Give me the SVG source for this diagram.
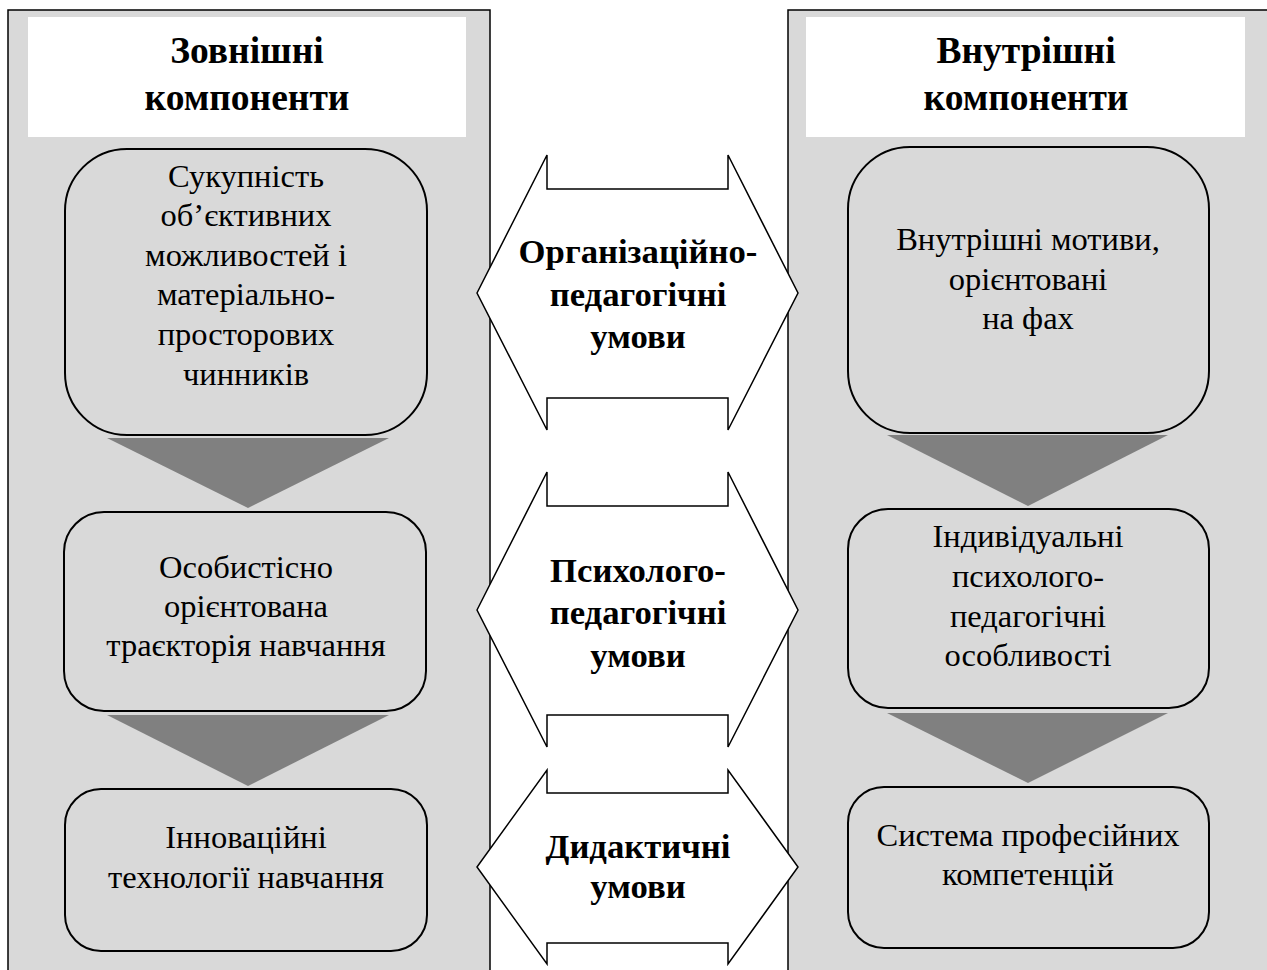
<svg xmlns="http://www.w3.org/2000/svg" width="1267" height="970" viewBox="0 0 1267 970">
  <style>
    .panel { fill: #d9d9d9; stroke: #000; stroke-width: 1.5; }
    .head { fill: #fff; }
    .box { fill: #d9d9d9; stroke: #000; stroke-width: 2; }
    .tri { fill: #808080; }
    .arrow { fill: #fff; stroke: #000; stroke-width: 1.5; stroke-linejoin: miter; }
    .h { font-family: "Liberation Serif", "Times New Roman", serif; font-weight: bold; font-size: 37.5px; fill: #000; text-anchor: middle; }
    .m { font-family: "Liberation Serif", "Times New Roman", serif; font-weight: bold; font-size: 34.7px; fill: #000; text-anchor: middle; }
    .t { font-family: "Liberation Serif", "Times New Roman", serif; font-size: 32.5px; fill: #000; text-anchor: middle; }
  </style>
  <rect width="1267" height="970" fill="#fff"/>

  <!-- outer columns -->
  <g id="left-panel">
    <rect class="panel" x="8" y="10" width="482" height="975"/>
    <rect class="head" x="28" y="17" width="438" height="120"/>
    <text class="h" x="247" y="63">Зовнішні</text>
    <text class="h" x="247" y="110">компоненти</text>
  </g>
  <g id="right-panel">
    <rect class="panel" x="788" y="10" width="490" height="975"/>
    <rect class="head" x="806" y="17" width="439" height="120"/>
    <text class="h" x="1026" y="63">Внутрішні</text>
    <text class="h" x="1026" y="110">компоненти</text>
  </g>

  <!-- flow arrows between components -->
  <g id="connectors">
    <polygon class="tri" points="107,438 389,438 248,508"/>
    <polygon class="tri" points="107,715 389,715 248,786"/>
    <polygon class="tri" points="887,435 1168,435 1028,506"/>
    <polygon class="tri" points="887,713 1168,713 1028,783"/>
  </g>

  <!-- external components -->
  <g id="ext-1">
    <rect class="box" x="65" y="149" width="362" height="286" rx="62" ry="62"/>
    <text class="t" x="246" y="187">Сукупність</text>
    <text class="t" x="246" y="226">об’єктивних</text>
    <text class="t" x="246" y="266">можливостей і</text>
    <text class="t" x="246" y="305">матеріально-</text>
    <text class="t" x="246" y="345">просторових</text>
    <text class="t" x="246" y="385">чинників</text>
  </g>
  <g id="ext-2">
    <rect class="box" x="64" y="512" width="362" height="199" rx="40" ry="40"/>
    <text class="t" x="246" y="578">Особистісно</text>
    <text class="t" x="246" y="617">орієнтована</text>
    <text class="t" x="246" y="656">траєкторія навчання</text>
  </g>
  <g id="ext-3">
    <rect class="box" x="65" y="789" width="362" height="162" rx="36" ry="36"/>
    <text class="t" x="246" y="848">Інноваційні</text>
    <text class="t" x="246" y="888">технології навчання</text>
  </g>

  <!-- internal components -->
  <g id="int-1">
    <rect class="box" x="848" y="147" width="361" height="286" rx="62" ry="62"/>
    <text class="t" x="1028" y="250">Внутрішні мотиви,</text>
    <text class="t" x="1028" y="290">орієнтовані</text>
    <text class="t" x="1028" y="329">на фах</text>
  </g>
  <g id="int-2">
    <rect class="box" x="848" y="509" width="361" height="199" rx="40" ry="40"/>
    <text class="t" x="1028" y="547">Індивідуальні</text>
    <text class="t" x="1028" y="587">психолого-</text>
    <text class="t" x="1028" y="627">педагогічні</text>
    <text class="t" x="1028" y="666">особливості</text>
  </g>
  <g id="int-3">
    <rect class="box" x="848" y="787" width="361" height="161" rx="36" ry="36"/>
    <text class="t" x="1028" y="846">Система професійних</text>
    <text class="t" x="1028" y="885">компетенцій</text>
  </g>

  <!-- conditions: double-headed arrows -->
  <g id="cond-org">
    <polygon class="arrow" points="477,293 547,155 547,189 728,189 728,155 798,293 728,430 728,398 547,398 547,430"/>
    <text class="m" x="638" y="263">Організаційно-</text>
    <text class="m" x="638" y="306">педагогічні</text>
    <text class="m" x="638" y="348">умови</text>
  </g>
  <g id="cond-psy">
    <polygon class="arrow" points="477,610 547,472 547,506 728,506 728,472 798,610 728,747 728,715 547,715 547,747"/>
    <text class="m" x="638" y="582">Психолого-</text>
    <text class="m" x="638" y="624">педагогічні</text>
    <text class="m" x="638" y="667">умови</text>
  </g>
  <g id="cond-did">
    <polygon class="arrow" points="477,867 547,770 547,793 728,793 728,770 798,867 728,964 728,943 547,943 547,964"/>
    <text class="m" x="638" y="858">Дидактичні</text>
    <text class="m" x="638" y="898">умови</text>
  </g>
</svg>
